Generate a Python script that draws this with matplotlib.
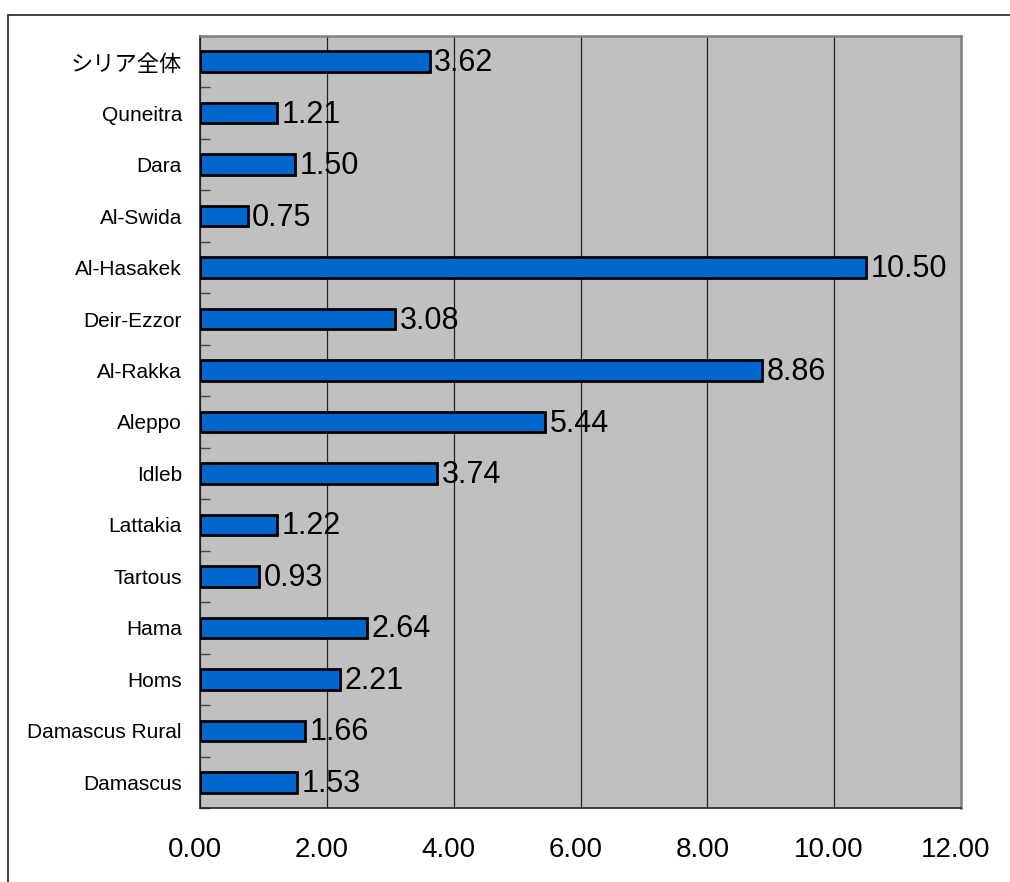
import matplotlib.pyplot as plt
import matplotlib.patches as mpatches
import matplotlib.transforms as mtransforms
import numpy as np

# data, bottom to top
regions = ["Damascus", "Damascus Rural", "Homs", "Hama", "Tartous", "Lattakia",
           "Idleb", "Aleppo", "Al-Rakka", "Deir-Ezzor", "Al-Hasakek", "Al-Swida",
           "Dara", "Quneitra", "シリア全体"]
values = [1.53, 1.66, 2.21, 2.64, 0.93, 1.22, 3.74, 5.44, 8.86, 3.08, 10.50,
          0.75, 1.50, 1.21, 3.62]
xticks = [0, 2, 4, 6, 8, 10, 12]

fig = plt.figure(figsize=(10.1, 8.82), dpi=100)
ax = fig.add_axes([200 / 1010, 1 - 808 / 882, 761 / 1010, 772 / 882])

# outer chart border (runs off the right and bottom edges)
fig.patches.append(mpatches.Rectangle((8 / 1010, -0.1), 1.2, 1 - 15 / 882 + 0.1,
                                      transform=fig.transFigure, fill=False,
                                      edgecolor="#222222", linewidth=1.2))

ax.set_facecolor("#c0c0c0")
y = np.arange(len(regions))
ax.barh(y, values, height=0.4, color="#0066cc", edgecolor="black",
        linewidth=2, zorder=3)

for yi, v in zip(y, values):
    ax.text(v + 0.07, yi - 0.03, f"{v:.2f}", va="center", ha="left",
            fontsize=22, family="Liberation Sans", zorder=4)

ax.set_xlim(0, 12)
ax.set_ylim(-0.5, len(regions) - 0.5)
ax.set_xticks(xticks)
ax.set_xticklabels([f"{t:.2f}" for t in xticks], fontsize=20,
                   family="Liberation Sans")
ax.tick_params(axis="x", length=0, pad=21)
shift = mtransforms.ScaledTranslation(-5 / 100, 0, fig.dpi_scale_trans)
for lab in ax.get_xticklabels():
    lab.set_transform(lab.get_transform() + shift)
ax.grid(axis="x", color="#222222", linewidth=0.9, zorder=1)

ax.set_yticks(y)
ax.set_yticklabels(regions, fontsize=15,
                   family=["Liberation Sans", "Noto Sans CJK JP"])
for lab in ax.get_yticklabels():
    if lab.get_text() == "シリア全体":
        lab.set_family(["Noto Sans CJK JP"])
        lab.set_fontsize(16)
ax.tick_params(axis="y", which="major", length=0, pad=13)
ax.set_yticks(np.arange(len(regions) + 1) - 0.5, minor=True)
ax.tick_params(axis="y", which="minor", direction="in", length=7,
               color="#444444", width=1)

for side in ["left", "bottom"]:
    ax.spines[side].set_color("#222222")
    ax.spines[side].set_linewidth(1.2)
for side in ["top", "right"]:
    ax.spines[side].set_color("#808080")
    ax.spines[side].set_linewidth(1.8)

fig.savefig("out.png", dpi=100)
